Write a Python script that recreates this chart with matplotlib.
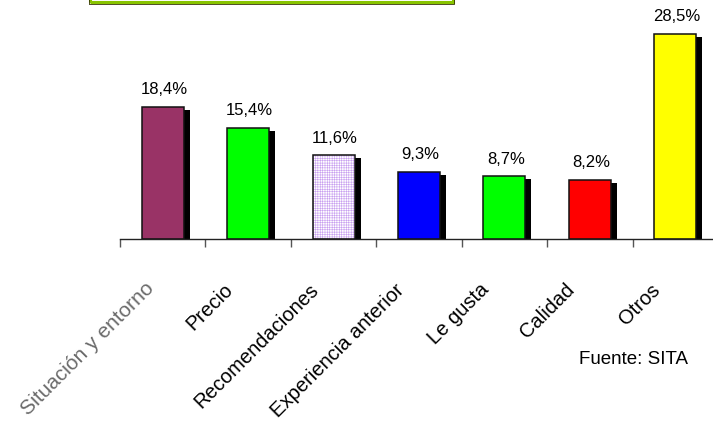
import matplotlib
matplotlib.use("Agg")
import matplotlib.pyplot as plt
import matplotlib.transforms as mtransforms
from matplotlib.patches import Rectangle
import numpy as np

plt.rcParams['font.family'] = ['Liberation Sans', 'DejaVu Sans']
plt.rcParams['hatch.linewidth'] = 0.4

# Motivos de elección
categorias = ['Situación y entorno', 'Precio', 'Recomendaciones',
              'Experiencia anterior', 'Le gusta', 'Calidad', 'Otros']
porcentajes = [18.4, 15.4, 11.6, 9.3, 8.7, 8.2, 28.5]
etiquetas = ['18,4%', '15,4%', '11,6%', '9,3%', '8,7%', '8,2%', '28,5%']
colores = ['#993366', '#00ff00', 'white', '#0000ff', '#00ff00', '#ff0000', '#ffff00']

fig = plt.figure(figsize=(7.13, 4.24), dpi=100)
ax = fig.add_axes([120 / 713, 185 / 424, 598 / 713, 216 / 424])

x = np.arange(len(categorias))
ancho = 0.49

# sombra negra desplazada a la derecha
sombra_dx = 6 / 85.4
sombra_dy = 3 / 7.2
ax.bar(x + sombra_dx, np.array(porcentajes) - sombra_dy, width=ancho,
       color='black', linewidth=0, zorder=1)

for i, (v, c) in enumerate(zip(porcentajes, colores)):
    if i == 2:
        # relleno cuadriculado lila
        ax.bar(i, v, width=ancho, color='white', edgecolor='#c9a0f0',
               hatch='+++++++', linewidth=0, zorder=2)
        ax.bar(i, v, width=ancho, fill=False, edgecolor='#111111',
               linewidth=1.1, zorder=3)
    else:
        ax.bar(i, v, width=ancho, color=c, edgecolor='#111111',
               linewidth=1.1, zorder=2)

for i, (v, t) in enumerate(zip(porcentajes, etiquetas)):
    ax.annotate(t, (i, v), xytext=(1, 7), textcoords='offset points',
                ha='center', va='bottom', fontsize=12, color='black')

ax.set_xlim(-0.5, len(categorias) - 0.5)
ax.set_ylim(0, 30)
for s in ['left', 'right', 'top']:
    ax.spines[s].set_visible(False)
ax.spines['bottom'].set_color('#222222')
ax.spines['bottom'].set_linewidth(1.0)
ax.set_yticks([])
ax.set_xticks(np.arange(len(categorias) + 1) - 0.5)
ax.set_xticklabels([])
ax.tick_params(axis='x', direction='out', length=6, width=1.0, color='#555555')

# etiquetas de categoría giradas 45°
desplaza = mtransforms.ScaledTranslation(-18 / 100, -48 / 100, fig.dpi_scale_trans)
desplaza_1 = mtransforms.ScaledTranslation(-12 / 100, -46 / 100, fig.dpi_scale_trans)
for i, nombre in enumerate(categorias):
    ax.text(i, 0, nombre,
            transform=ax.get_xaxis_transform() + (desplaza_1 if i == 0 else desplaza),
            rotation=45, rotation_mode='anchor', ha='right', va='center',
            fontsize=15 if i == 0 else 14.5,
            color='#6a6a6a' if i == 0 else 'black')

fig.text(688 / 713, 1 - 360 / 424, 'Fuente: SITA', ha='right', va='center',
         fontsize=13.5)

# recuadro del título (cortado arriba)
fig.patches.append(Rectangle((90 / 713, 1 - 2 / 424), 363 / 713, 30 / 424,
                             transform=fig.transFigure, facecolor='none',
                             edgecolor='#88c400', linewidth=2.2))
fig.patches.append(Rectangle((89 / 713, 1 - 3.5 / 424), 365 / 713, 30 / 424,
                             transform=fig.transFigure, facecolor='none',
                             edgecolor='#333300', linewidth=0.6))

fig.savefig('out.png', dpi=100)
